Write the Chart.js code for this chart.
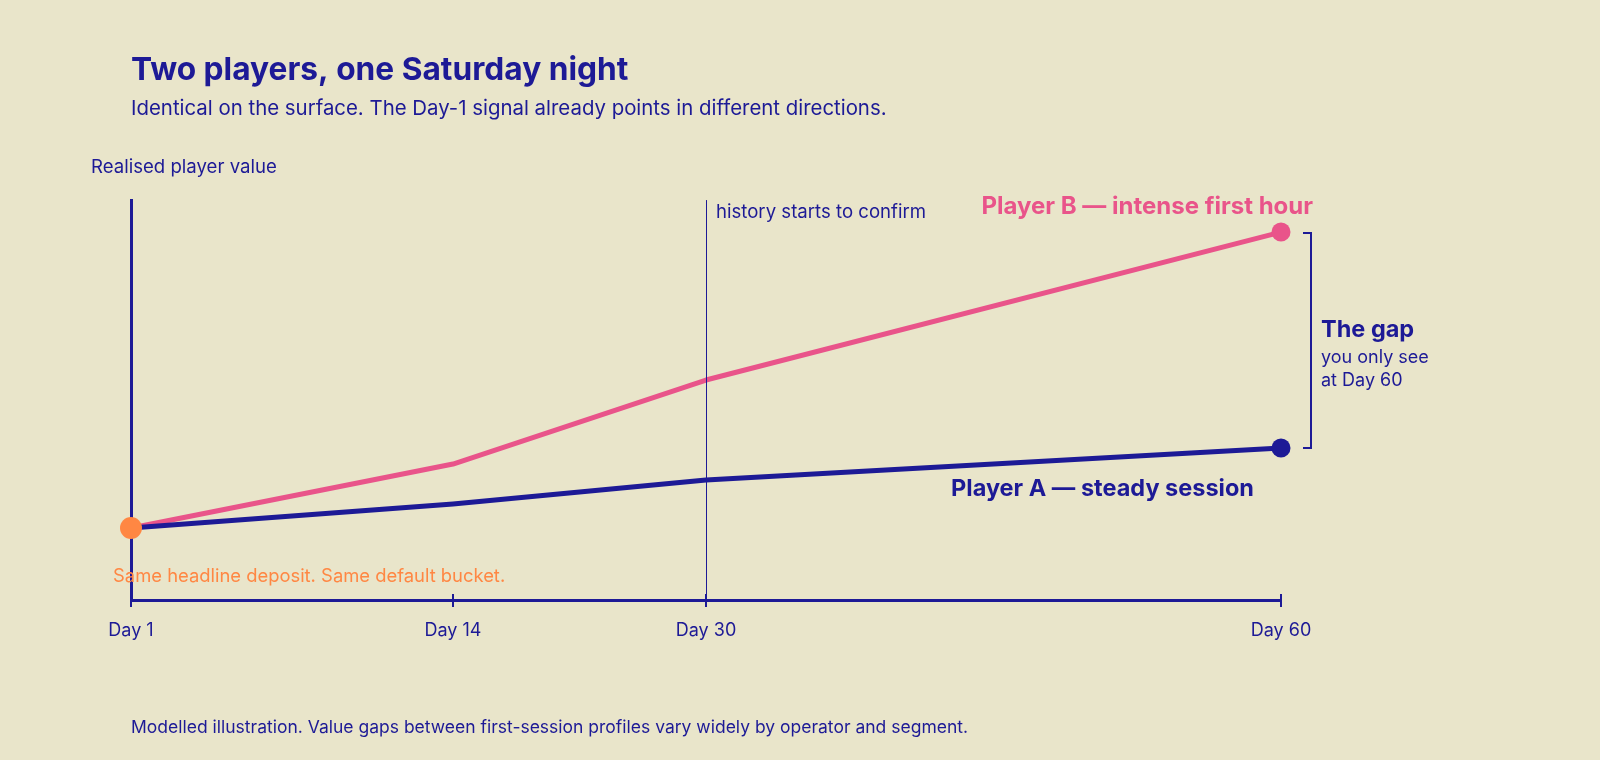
<!DOCTYPE html>
<html>
<head>
<meta charset="utf-8">
<title>Two players, one Saturday night</title>
<script src="https://cdn.jsdelivr.net/npm/chart.js@4.4.1/dist/chart.umd.min.js"></script>
<style>
  html, body { margin: 0; padding: 0; background: #e9e5ca; }
</style>
</head>
<body>
<canvas id="chart" width="1600" height="760"></canvas>
<script>
// timeline (days are not evenly spaced on the original axis)
const dayLabels = ['Day 1', 'Day 14', 'Day 30', 'Day 60'];
const dayPos = [0, 28, 50, 100];
// realised player value (index, 0-100)
const playerA = [18, 24, 30, 38];
const playerB = [18, 34, 55, 92];
const startValue = 18;
const confirmIndex = 2; // Day 30

const NAVY = '#1d1a96';
const PINK = '#e9548a';
const ORANGE = '#ff8743';
const FONT = 'Inter';

function toPoints(values) {
    return values.map((v, i) => ({ x: dayPos[i], y: v }));
}

const notes = {
    id: 'notes',
    afterDatasetsDraw(chart) {
        const ctx = chart.ctx;
        const x = chart.scales.x;
        const area = chart.chartArea;
        ctx.save();
        // Day 30 marker
        const cx = Math.round(x.getPixelForValue(dayPos[confirmIndex])) + 0.5;
        ctx.strokeStyle = NAVY;
        ctx.lineWidth = 1;
        ctx.beginPath();
        ctx.moveTo(cx, area.top);
        ctx.lineTo(cx, area.bottom);
        ctx.stroke();
        // tick marks crossing the axis
        ctx.lineWidth = 2;
        dayPos.forEach((p, i) => {
            const px = x.getPixelForValue(p);
            ctx.beginPath();
            ctx.moveTo(px, area.bottom - (i === 0 ? 0 : 6));
            ctx.lineTo(px, area.bottom + 7);
            ctx.stroke();
        });
        ctx.restore();
    },
    afterDraw(chart) {
        const ctx = chart.ctx;
        const x = chart.scales.x, y = chart.scales.y;
        const last = dayPos.length - 1;
        const endX = x.getPixelForValue(dayPos[last]);
        const yB = y.getPixelForValue(playerB[last]);
        const yA = y.getPixelForValue(playerA[last]);
        ctx.save();
        ctx.textBaseline = 'alphabetic';

        // y axis caption
        ctx.fillStyle = NAVY;
        ctx.font = `18.6px ${FONT}`;
        ctx.textAlign = 'left';
        ctx.fillText('Realised player value', 91, 173);

        ctx.font = `18.6px ${FONT}`;
        ctx.fillText('history starts to confirm', x.getPixelForValue(dayPos[confirmIndex]) + 10, 218);

        // series labels
        ctx.textAlign = 'right';
        ctx.font = `bold 24px ${FONT}`;
        ctx.fillStyle = PINK;
        ctx.fillText('Player B \u2014 intense first hour', endX + 32, 214);
        ctx.font = `bold 23.5px ${FONT}`;
        ctx.fillStyle = NAVY;
        ctx.fillText('Player A \u2014 steady session', endX - 27, 496);

        // bracket
        const bx = endX + 30;
        ctx.strokeStyle = NAVY;
        ctx.lineWidth = 2;
        ctx.beginPath();
        ctx.moveTo(bx - 8, yB + 1);
        ctx.lineTo(bx, yB + 1);
        ctx.lineTo(bx, yA);
        ctx.lineTo(bx - 8, yA);
        ctx.stroke();

        ctx.textAlign = 'left';
        ctx.font = `bold 23.5px ${FONT}`;
        ctx.fillText('The gap', bx + 10, 337);
        ctx.font = `18px ${FONT}`;
        ctx.fillText('you only see', bx + 10, 363);
        ctx.fillText('at Day 60', bx + 10, 386);

        // start note
        ctx.fillStyle = ORANGE;
        ctx.font = `18.4px ${FONT}`;
        ctx.fillText('Same headline deposit. Same default bucket.', 113, 582);

        // footer
        ctx.fillStyle = NAVY;
        ctx.font = `17.5px ${FONT}`;
        ctx.fillText('Modelled illustration. Value gaps between first-session profiles vary widely by operator and segment.', 131, 733);
        ctx.restore();
    }
};

new Chart(document.getElementById('chart'), {
    type: 'line',
    data: {
        datasets: [
            {
                label: 'Start',
                data: [{ x: dayPos[0], y: startValue }],
                showLine: false,
                pointRadius: 11,
                pointBackgroundColor: ORANGE,
                pointBorderWidth: 0,
                clip: false,
                order: 0
            },
            {
                label: 'Player A',
                data: toPoints(playerA),
                borderColor: NAVY,
                borderWidth: 5,
                borderJoinStyle: 'round',
                tension: 0,
                pointRadius: playerA.map((v, i) => i === playerA.length - 1 ? 9.5 : 0),
                pointBackgroundColor: NAVY,
                pointBorderWidth: 0,
                clip: false,
                order: 1
            },
            {
                label: 'Player B',
                data: toPoints(playerB),
                borderColor: PINK,
                borderWidth: 5,
                borderJoinStyle: 'round',
                tension: 0,
                pointRadius: playerB.map((v, i) => i === playerB.length - 1 ? 9.5 : 0),
                pointBackgroundColor: PINK,
                pointBorderWidth: 0,
                clip: false,
                order: 2
            }
        ]
    },
    options: {
        responsive: false,
        devicePixelRatio: 1,
        animation: false,
        layout: { padding: { left: 131, right: 319, top: 54, bottom: 0 } },
        plugins: {
            legend: { display: false },
            tooltip: { enabled: false },
            title: {
                display: true,
                text: 'Two players, one Saturday night',
                align: 'start',
                color: NAVY,
                font: { family: FONT, size: 31.7, weight: 'bold', lineHeight: 1.06 },
                padding: { top: 0, bottom: 0 }
            },
            subtitle: {
                display: true,
                text: 'Identical on the surface. The Day-1 signal already points in different directions.',
                align: 'start',
                color: NAVY,
                font: { family: FONT, size: 20.4, lineHeight: 1.2 },
                padding: { top: 9, bottom: 79 }
            }
        },
        scales: {
            x: {
                type: 'linear',
                min: 0,
                max: 100,
                afterBuildTicks: s => { s.ticks = dayPos.map(v => ({ value: v })); },
                afterFit: s => { s.height = 160; },
                ticks: {
                    callback: v => dayLabels[dayPos.indexOf(v)],
                    color: NAVY,
                    font: { family: FONT, size: 18 },
                    padding: 20,
                    maxRotation: 0
                },
                grid: { display: false, drawTicks: false },
                border: { display: true, color: NAVY, width: 3 }
            },
            y: {
                min: 0,
                max: 100,
                afterFit: s => { s.width = 0; },
                ticks: { display: false },
                grid: { display: false, drawTicks: false },
                border: { display: true, color: NAVY, width: 3 }
            }
        }
    },
    plugins: [notes]
});
</script>
</body>
</html>
